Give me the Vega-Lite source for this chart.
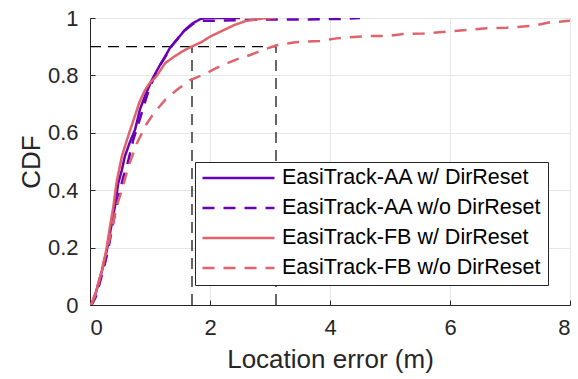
{
  "$schema": "https://vega.github.io/schema/vega-lite/v6.json",
  "width": 480,
  "height": 287,
  "autosize": "none",
  "padding": {"left": 90, "top": 18, "right": 8, "bottom": 74},
  "background": "white",
  "config": {
    "font": "Liberation Sans",
    "view": {"stroke": "#262626", "strokeWidth": 1},
    "axis": {
      "domainColor": "#262626",
      "tickColor": "#262626",
      "labelColor": "#262626",
      "titleColor": "#262626",
      "gridColor": "#e6e6e6",
      "gridWidth": 1,
      "labelFontSize": 22,
      "titleFontSize": 26,
      "titleFontWeight": "normal",
      "tickSize": -5,
      "labelFont": "Liberation Sans",
      "titleFont": "Liberation Sans"
    }
  },
  "datasets": {
    "curves": [
      {"s": "EasiTrack-AA w/ DirReset", "x": 0, "y": 0},
      {"s": "EasiTrack-AA w/ DirReset", "x": 0.03, "y": 0.005},
      {"s": "EasiTrack-AA w/ DirReset", "x": 0.08, "y": 0.03},
      {"s": "EasiTrack-AA w/ DirReset", "x": 0.14, "y": 0.075},
      {"s": "EasiTrack-AA w/ DirReset", "x": 0.2, "y": 0.12},
      {"s": "EasiTrack-AA w/ DirReset", "x": 0.28, "y": 0.19},
      {"s": "EasiTrack-AA w/ DirReset", "x": 0.35, "y": 0.27},
      {"s": "EasiTrack-AA w/ DirReset", "x": 0.42, "y": 0.35},
      {"s": "EasiTrack-AA w/ DirReset", "x": 0.47, "y": 0.424},
      {"s": "EasiTrack-AA w/ DirReset", "x": 0.53, "y": 0.47},
      {"s": "EasiTrack-AA w/ DirReset", "x": 0.58, "y": 0.517},
      {"s": "EasiTrack-AA w/ DirReset", "x": 0.66, "y": 0.565},
      {"s": "EasiTrack-AA w/ DirReset", "x": 0.75, "y": 0.61},
      {"s": "EasiTrack-AA w/ DirReset", "x": 0.83, "y": 0.68},
      {"s": "EasiTrack-AA w/ DirReset", "x": 0.92, "y": 0.73},
      {"s": "EasiTrack-AA w/ DirReset", "x": 1.03, "y": 0.784},
      {"s": "EasiTrack-AA w/ DirReset", "x": 1.15, "y": 0.83},
      {"s": "EasiTrack-AA w/ DirReset", "x": 1.25, "y": 0.865},
      {"s": "EasiTrack-AA w/ DirReset", "x": 1.33, "y": 0.895},
      {"s": "EasiTrack-AA w/ DirReset", "x": 1.45, "y": 0.925},
      {"s": "EasiTrack-AA w/ DirReset", "x": 1.58, "y": 0.958},
      {"s": "EasiTrack-AA w/ DirReset", "x": 1.7, "y": 0.98},
      {"s": "EasiTrack-AA w/ DirReset", "x": 1.83, "y": 0.995},
      {"s": "EasiTrack-AA w/ DirReset", "x": 1.9, "y": 1.0},
      {"s": "EasiTrack-AA w/ DirReset", "x": 2.5, "y": 1.0},
      {"s": "EasiTrack-AA w/o DirReset", "x": 0, "y": 0},
      {"s": "EasiTrack-AA w/o DirReset", "x": 0.04, "y": 0.005},
      {"s": "EasiTrack-AA w/o DirReset", "x": 0.1, "y": 0.03},
      {"s": "EasiTrack-AA w/o DirReset", "x": 0.16, "y": 0.075},
      {"s": "EasiTrack-AA w/o DirReset", "x": 0.22, "y": 0.12},
      {"s": "EasiTrack-AA w/o DirReset", "x": 0.3, "y": 0.19},
      {"s": "EasiTrack-AA w/o DirReset", "x": 0.37, "y": 0.27},
      {"s": "EasiTrack-AA w/o DirReset", "x": 0.44, "y": 0.34},
      {"s": "EasiTrack-AA w/o DirReset", "x": 0.5, "y": 0.4},
      {"s": "EasiTrack-AA w/o DirReset", "x": 0.56, "y": 0.45},
      {"s": "EasiTrack-AA w/o DirReset", "x": 0.61, "y": 0.48},
      {"s": "EasiTrack-AA w/o DirReset", "x": 0.67, "y": 0.53},
      {"s": "EasiTrack-AA w/o DirReset", "x": 0.72, "y": 0.575},
      {"s": "EasiTrack-AA w/o DirReset", "x": 0.79, "y": 0.62},
      {"s": "EasiTrack-AA w/o DirReset", "x": 0.86, "y": 0.668},
      {"s": "EasiTrack-AA w/o DirReset", "x": 0.95, "y": 0.73},
      {"s": "EasiTrack-AA w/o DirReset", "x": 1.05, "y": 0.785},
      {"s": "EasiTrack-AA w/o DirReset", "x": 1.15, "y": 0.83},
      {"s": "EasiTrack-AA w/o DirReset", "x": 1.27, "y": 0.87},
      {"s": "EasiTrack-AA w/o DirReset", "x": 1.35, "y": 0.9},
      {"s": "EasiTrack-AA w/o DirReset", "x": 1.47, "y": 0.93},
      {"s": "EasiTrack-AA w/o DirReset", "x": 1.6, "y": 0.96},
      {"s": "EasiTrack-AA w/o DirReset", "x": 1.72, "y": 0.98},
      {"s": "EasiTrack-AA w/o DirReset", "x": 1.85, "y": 0.99},
      {"s": "EasiTrack-AA w/o DirReset", "x": 2.1, "y": 0.99},
      {"s": "EasiTrack-AA w/o DirReset", "x": 2.5, "y": 0.993},
      {"s": "EasiTrack-AA w/o DirReset", "x": 3.0, "y": 0.995},
      {"s": "EasiTrack-AA w/o DirReset", "x": 3.6, "y": 0.995},
      {"s": "EasiTrack-AA w/o DirReset", "x": 4.2, "y": 0.997},
      {"s": "EasiTrack-AA w/o DirReset", "x": 4.5, "y": 1.0},
      {"s": "EasiTrack-FB w/ DirReset", "x": 0, "y": 0},
      {"s": "EasiTrack-FB w/ DirReset", "x": 0.03, "y": 0.005},
      {"s": "EasiTrack-FB w/ DirReset", "x": 0.08, "y": 0.03},
      {"s": "EasiTrack-FB w/ DirReset", "x": 0.14, "y": 0.075},
      {"s": "EasiTrack-FB w/ DirReset", "x": 0.2, "y": 0.12},
      {"s": "EasiTrack-FB w/ DirReset", "x": 0.27, "y": 0.19},
      {"s": "EasiTrack-FB w/ DirReset", "x": 0.33, "y": 0.27},
      {"s": "EasiTrack-FB w/ DirReset", "x": 0.39, "y": 0.343},
      {"s": "EasiTrack-FB w/ DirReset", "x": 0.44, "y": 0.424},
      {"s": "EasiTrack-FB w/ DirReset", "x": 0.53, "y": 0.517},
      {"s": "EasiTrack-FB w/ DirReset", "x": 0.6, "y": 0.565},
      {"s": "EasiTrack-FB w/ DirReset", "x": 0.67, "y": 0.61},
      {"s": "EasiTrack-FB w/ DirReset", "x": 0.75, "y": 0.66},
      {"s": "EasiTrack-FB w/ DirReset", "x": 0.83, "y": 0.71},
      {"s": "EasiTrack-FB w/ DirReset", "x": 0.92, "y": 0.75},
      {"s": "EasiTrack-FB w/ DirReset", "x": 1.0, "y": 0.775},
      {"s": "EasiTrack-FB w/ DirReset", "x": 1.1, "y": 0.795},
      {"s": "EasiTrack-FB w/ DirReset", "x": 1.25, "y": 0.842},
      {"s": "EasiTrack-FB w/ DirReset", "x": 1.4, "y": 0.865},
      {"s": "EasiTrack-FB w/ DirReset", "x": 1.55, "y": 0.885},
      {"s": "EasiTrack-FB w/ DirReset", "x": 1.69, "y": 0.9},
      {"s": "EasiTrack-FB w/ DirReset", "x": 1.85, "y": 0.915},
      {"s": "EasiTrack-FB w/ DirReset", "x": 2.0, "y": 0.935},
      {"s": "EasiTrack-FB w/ DirReset", "x": 2.2, "y": 0.955},
      {"s": "EasiTrack-FB w/ DirReset", "x": 2.4, "y": 0.975},
      {"s": "EasiTrack-FB w/ DirReset", "x": 2.6, "y": 0.99},
      {"s": "EasiTrack-FB w/ DirReset", "x": 2.9, "y": 0.999},
      {"s": "EasiTrack-FB w/ DirReset", "x": 3.1, "y": 1.0},
      {"s": "EasiTrack-FB w/o DirReset", "x": 0, "y": 0},
      {"s": "EasiTrack-FB w/o DirReset", "x": 0.03, "y": 0.006},
      {"s": "EasiTrack-FB w/o DirReset", "x": 0.14, "y": 0.075},
      {"s": "EasiTrack-FB w/o DirReset", "x": 0.25, "y": 0.168},
      {"s": "EasiTrack-FB w/o DirReset", "x": 0.36, "y": 0.26},
      {"s": "EasiTrack-FB w/o DirReset", "x": 0.44, "y": 0.343},
      {"s": "EasiTrack-FB w/o DirReset", "x": 0.53, "y": 0.4},
      {"s": "EasiTrack-FB w/o DirReset", "x": 0.64, "y": 0.482},
      {"s": "EasiTrack-FB w/o DirReset", "x": 0.78, "y": 0.563},
      {"s": "EasiTrack-FB w/o DirReset", "x": 0.94, "y": 0.63},
      {"s": "EasiTrack-FB w/o DirReset", "x": 1.08, "y": 0.673},
      {"s": "EasiTrack-FB w/o DirReset", "x": 1.25, "y": 0.714},
      {"s": "EasiTrack-FB w/o DirReset", "x": 1.45, "y": 0.75},
      {"s": "EasiTrack-FB w/o DirReset", "x": 1.67, "y": 0.784},
      {"s": "EasiTrack-FB w/o DirReset", "x": 1.94, "y": 0.807},
      {"s": "EasiTrack-FB w/o DirReset", "x": 2.1, "y": 0.825},
      {"s": "EasiTrack-FB w/o DirReset", "x": 2.28, "y": 0.842},
      {"s": "EasiTrack-FB w/o DirReset", "x": 2.5, "y": 0.86},
      {"s": "EasiTrack-FB w/o DirReset", "x": 2.67, "y": 0.871},
      {"s": "EasiTrack-FB w/o DirReset", "x": 2.9, "y": 0.89},
      {"s": "EasiTrack-FB w/o DirReset", "x": 3.11, "y": 0.905},
      {"s": "EasiTrack-FB w/o DirReset", "x": 3.39, "y": 0.915},
      {"s": "EasiTrack-FB w/o DirReset", "x": 3.83, "y": 0.92},
      {"s": "EasiTrack-FB w/o DirReset", "x": 4.11, "y": 0.929},
      {"s": "EasiTrack-FB w/o DirReset", "x": 4.61, "y": 0.937},
      {"s": "EasiTrack-FB w/o DirReset", "x": 4.94, "y": 0.937},
      {"s": "EasiTrack-FB w/o DirReset", "x": 5.22, "y": 0.944},
      {"s": "EasiTrack-FB w/o DirReset", "x": 5.56, "y": 0.946},
      {"s": "EasiTrack-FB w/o DirReset", "x": 5.94, "y": 0.952},
      {"s": "EasiTrack-FB w/o DirReset", "x": 6.28, "y": 0.958},
      {"s": "EasiTrack-FB w/o DirReset", "x": 6.61, "y": 0.964},
      {"s": "EasiTrack-FB w/o DirReset", "x": 6.94, "y": 0.966},
      {"s": "EasiTrack-FB w/o DirReset", "x": 7.39, "y": 0.973},
      {"s": "EasiTrack-FB w/o DirReset", "x": 7.67, "y": 0.985},
      {"s": "EasiTrack-FB w/o DirReset", "x": 8.0, "y": 0.99}
    ],
    "refs": [
      {"x": 0, "x2": 3.1, "y": 0.9, "y2": 0.9},
      {"x": 1.7, "x2": 1.7, "y": 0, "y2": 0.9},
      {"x": 3.1, "x2": 3.1, "y": 0, "y2": 0.9}
    ]
  },
  "layer": [
    {
      "data": {"name": "refs"},
      "mark": {"type": "rule", "color": "black", "strokeWidth": 1.2, "strokeDash": [11, 7]},
      "encoding": {
        "x": {"field": "x", "type": "quantitative", "scale": {"domain": [0, 8], "nice": false},
          "axis": {"title": "Location error (m)", "values": [0, 2, 4, 6, 8], "format": "~g", "labelPadding": 17, "titlePadding": 8}},
        "x2": {"field": "x2"},
        "y": {"field": "y", "type": "quantitative", "scale": {"domain": [0, 1], "nice": false},
          "axis": {"title": "CDF", "values": [0, 0.2, 0.4, 0.6, 0.8, 1], "format": "~g", "labelPadding": 17, "titlePadding": 3}},
        "y2": {"field": "y2"}
      }
    },
    {
      "data": {"name": "curves"},
      "mark": {"type": "line", "strokeWidth": 2.5, "clip": true},
      "encoding": {
        "x": {"field": "x", "type": "quantitative"},
        "y": {"field": "y", "type": "quantitative"},
        "order": {"field": "x", "type": "quantitative"},
        "color": {
          "field": "s", "type": "nominal",
          "scale": {
            "domain": ["EasiTrack-AA w/ DirReset", "EasiTrack-AA w/o DirReset", "EasiTrack-FB w/ DirReset", "EasiTrack-FB w/o DirReset"],
            "range": ["#6a00b4", "#6a00b4", "#e0636b", "#e0636b"]
          },
          "legend": {
            "title": null,
            "orient": "none",
            "legendX": 105,
            "legendY": 144,
            "symbolType": "stroke",
            "symbolSize": 5184,
            "symbolStrokeWidth": 2.5,
            "clipHeight": 20,
            "labelFontSize": 21.5,
            "labelColor": "black",
            "labelFont": "Liberation Sans",
            "labelLimit": 400,
            "rowPadding": 8,
            "padding": 6,
            "strokeColor": "#262626",
            "fillColor": "white",
            "labelOffset": 6
          }
        },
        "strokeDash": {
          "field": "s", "type": "nominal",
          "scale": {
            "domain": ["EasiTrack-AA w/ DirReset", "EasiTrack-AA w/o DirReset", "EasiTrack-FB w/ DirReset", "EasiTrack-FB w/o DirReset"],
            "range": [[1, 0], [12, 9], [1, 0], [12, 9]]
          }
        }
      }
    }
  ]
}
